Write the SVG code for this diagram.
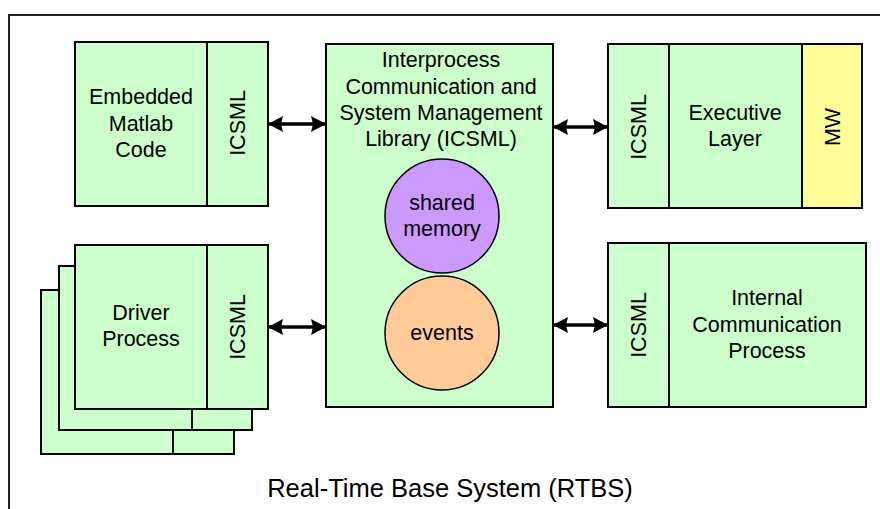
<svg xmlns="http://www.w3.org/2000/svg" width="880" height="509" viewBox="0 0 880 509">
<defs>
<style>
.box{fill:#CCFFCC;stroke:#000;stroke-width:2}
.mw{fill:#FFFF99;stroke:#000;stroke-width:2}
.div{stroke:#000;stroke-width:2}
.t{font-family:"Liberation Sans",Arial,sans-serif;font-size:21.5px;fill:#000;text-anchor:middle}
.big{font-size:25.5px}
.conn{stroke:#000;stroke-width:3.5;fill:none;marker-start:url(#ah);marker-end:url(#ah)}
</style>
<marker id="ah" viewBox="0 0 15 16" refX="14" refY="8" markerWidth="15" markerHeight="16" markerUnits="userSpaceOnUse" orient="auto-start-reverse">
<path d="M0,0 L15,8 L0,16 L2,8 Z" fill="#000"/>
</marker>
</defs>
<rect width="880" height="509" fill="#fff"/>
<g id="frame">
<path d="M881,15 H9 V510" fill="none" stroke="#222" stroke-width="2"/>
<text class="t big" x="450" y="497">Real-Time Base System (RTBS)</text>
</g>
<g id="matlab">
<rect class="box" x="75" y="42" width="193" height="164"/>
<line class="div" x1="207" y1="42" x2="207" y2="206"/>
<text class="t" x="141" y="104">Embedded</text>
<text class="t" x="141" y="131">Matlab</text>
<text class="t" x="141" y="157">Code</text>
<text class="t" transform="translate(245,123) rotate(-90)">ICSML</text>
</g>
<g id="driver">
<rect class="box" x="41" y="290" width="193" height="164"/>
<line class="div" x1="173" y1="290" x2="173" y2="454"/>
<rect class="box" x="59" y="266" width="193" height="164"/>
<line class="div" x1="192" y1="266" x2="192" y2="430"/>
<rect class="box" x="75" y="245" width="193" height="164"/>
<line class="div" x1="207" y1="245" x2="207" y2="409"/>
<text class="t" x="141" y="320">Driver</text>
<text class="t" x="141" y="346">Process</text>
<text class="t" transform="translate(245,327) rotate(-90)">ICSML</text>
</g>
<g id="icsml">
<rect class="box" x="326" y="44" width="227" height="363"/>
<text class="t" x="441" y="67">Interprocess</text>
<text class="t" x="441" y="94">Communication and</text>
<text class="t" x="441" y="120">System Management</text>
<text class="t" x="441" y="146">Library (ICSML)</text>
</g>
<g id="shared">
<circle cx="442" cy="216" r="57" fill="#CC99FF" stroke="#000" stroke-width="1.5"/>
<text class="t" x="442" y="210">shared</text>
<text class="t" x="442" y="236">memory</text>
</g>
<g id="events">
<circle cx="442" cy="333" r="57" fill="#FFCC99" stroke="#000" stroke-width="1.5"/>
<text class="t" x="442" y="340">events</text>
</g>
<g id="executive">
<rect class="box" x="608" y="44" width="254" height="164"/>
<rect class="mw" x="802" y="44" width="60" height="164"/>
<line class="div" x1="669" y1="44" x2="669" y2="208"/>
<text class="t" transform="translate(646,127) rotate(-90)">ICSML</text>
<text class="t" x="735" y="120">Executive</text>
<text class="t" x="735" y="146">Layer</text>
<text class="t" transform="translate(840,127) rotate(-90)">MW</text>
</g>
<g id="internal">
<rect class="box" x="608" y="243" width="258" height="164"/>
<line class="div" x1="669" y1="243" x2="669" y2="407"/>
<text class="t" transform="translate(646,325) rotate(-90)">ICSML</text>
<text class="t" x="767" y="305">Internal</text>
<text class="t" x="767" y="332">Communication</text>
<text class="t" x="767" y="358">Process</text>
</g>
<g id="connectors">
<line class="conn" x1="269" y1="124" x2="325" y2="124"/>
<line class="conn" x1="269" y1="327" x2="325" y2="327"/>
<line class="conn" x1="554" y1="127" x2="607" y2="127"/>
<line class="conn" x1="554" y1="325" x2="607" y2="325"/>
</g>
</svg>
